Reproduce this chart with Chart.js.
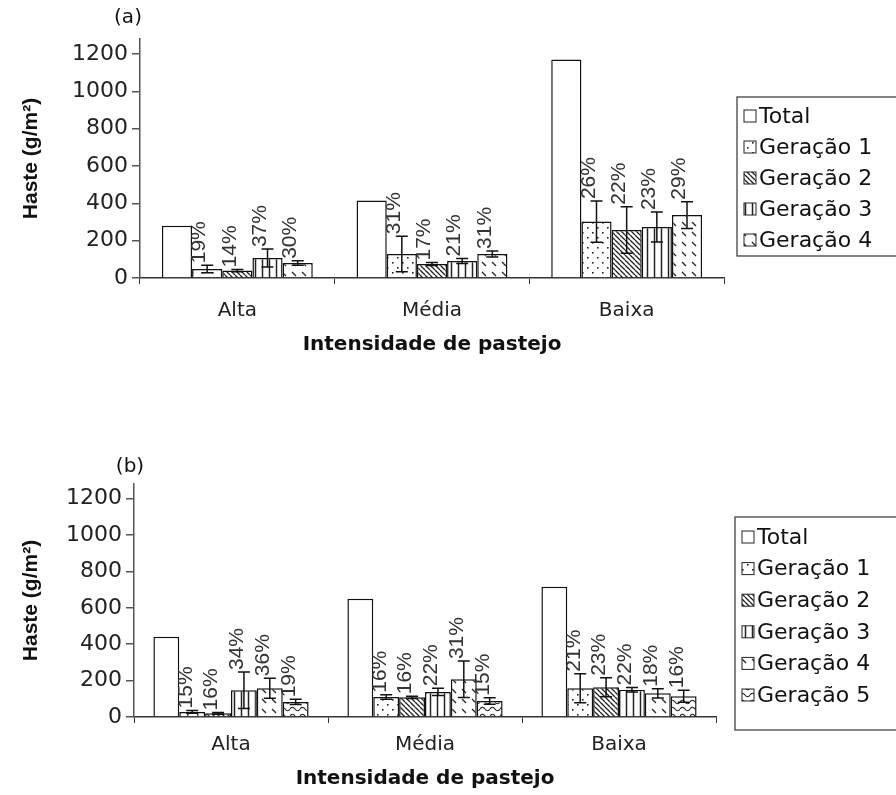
<!DOCTYPE html>
<html>
<head>
<meta charset="utf-8">
<script src="https://cdn.jsdelivr.net/npm/chart.js@4.4.1/dist/chart.umd.min.js"></script>
<style>
  html, body { margin: 0; padding: 0; background: #fff; }
  .panel { position: absolute; left: 0; width: 896px; }
  #boxA { top: 0; height: 397px; }
  #boxB { top: 397px; height: 398px; }
</style>
</head>
<body>
<div class="panel" id="boxA"><canvas id="chartA"></canvas></div>
<div class="panel" id="boxB"><canvas id="chartB"></canvas></div>
<script>
// x categories and y tick values (shared by both panels)
const categories = ['Alta', 'Média', 'Baixa'];
const yTicks = [0, 200, 400, 600, 800, 1000, 1200];

// panel (a) - values in g/m2, errors are +/- half lengths, pcts are the bar labels
const namesA = ['Total', 'Geração 1', 'Geração 2', 'Geração 3', 'Geração 4'];
const totalA = [280, 415, 1170];
const ger1A = [48, 129, 302];
const ger2A = [40, 75, 257];
const ger3A = [107, 91, 273];
const ger4A = [80, 129, 337];
const err1A = [20, 95, 110];
const err2A = [6, 8, 125];
const err3A = [48, 14, 80];
const err4A = [12, 16, 72];
const pct1A = ['19%', '31%', '26%'];
const pct2A = ['14%', '17%', '22%'];
const pct3A = ['37%', '21%', '23%'];
const pct4A = ['30%', '31%', '29%'];

// panel (b)
const namesB = ['Total', 'Geração 1', 'Geração 2', 'Geração 3', 'Geração 4', 'Geração 5'];
const totalB = [441, 649, 716];
const ger1B = [28, 110, 158];
const ger2B = [20, 108, 163];
const ger3B = [147, 138, 150];
const ger4B = [158, 207, 130];
const ger5B = [83, 88, 114];
const err1B = [8, 12, 80];
const err2B = [5, 6, 52];
const err3B = [100, 20, 12];
const err4B = [55, 100, 25];
const err5B = [14, 18, 33];
const pct1B = ['15%', '16%', '21%'];
const pct2B = ['16%', '16%', '23%'];
const pct3B = ['34%', '22%', '22%'];
const pct4B = ['36%', '31%', '18%'];
const pct5B = ['19%', '15%', '16%'];

// fill patterns for the bars (small tiles repeated)
function makePattern(kind) {
    const c = document.createElement('canvas');
    const w = { dots: 10, hatch: 5, vert: 7, dash: 10, wave: 10 }[kind] || 8;
    const h = { dots: 10, hatch: 5, vert: 7, dash: 10, wave: 7 }[kind] || 8;
    c.width = w; c.height = h;
    const g = c.getContext('2d');
    g.fillStyle = '#fff';
    g.fillRect(0, 0, w, h);
    g.strokeStyle = '#222';
    g.fillStyle = '#222';
    if (kind === 'plain') return '#fff';
    if (kind === 'dots') {
        g.fillRect(2, 2, 1.6, 1.6);
        g.fillRect(7, 7, 1.6, 1.6);
    } else if (kind === 'hatch') {
        g.lineWidth = 1.3;
        g.beginPath();
        g.moveTo(-w, 0); g.lineTo(0, h);
        g.moveTo(0, 0); g.lineTo(w, h);
        g.moveTo(w, 0); g.lineTo(2 * w, h);
        g.stroke();
    } else if (kind === 'vert') {
        g.lineWidth = 1.5;
        g.beginPath();
        g.moveTo(3.5, 0); g.lineTo(3.5, h);
        g.stroke();
    } else if (kind === 'dash') {
        g.lineWidth = 1.2;
        g.beginPath();
        g.moveTo(2, 2); g.lineTo(6, 6);
        g.stroke();
    } else if (kind === 'wave') {
        g.lineWidth = 1.2;
        g.beginPath();
        g.moveTo(0, 4); g.quadraticCurveTo(2.5, 0.5, 5, 4); g.quadraticCurveTo(7.5, 7.5, 10, 4);
        g.stroke();
    }
    return g.createPattern(c, 'repeat');
}

const fills = {
    plain: makePattern('plain'),
    dots: makePattern('dots'),
    hatch: makePattern('hatch'),
    vert: makePattern('vert'),
    dash: makePattern('dash'),
    wave: makePattern('wave')
};

// error bars and rotated percentage labels
const barDecor = {
    id: 'barDecor',
    afterDatasetsDraw(chart) {
        const ctx = chart.ctx;
        const y = chart.scales.y;
        chart.data.datasets.forEach((ds, i) => {
            if (!ds.errors) return;
            const meta = chart.getDatasetMeta(i);
            meta.data.forEach((bar, j) => {
                const v = ds.data[j], e = ds.errors[j];
                const yTop = y.getPixelForValue(v + e);
                const yBot = y.getPixelForValue(Math.max(0, v - e));
                ctx.save();
                // percentage label, reading bottom to top
                ctx.fillStyle = '#333';
                ctx.font = '21px "Liberation Sans", Arial, sans-serif';
                ctx.translate(bar.x - bar.width * 0.25, Math.min(yTop, bar.y) - 2);
                ctx.rotate(-Math.PI / 2);
                ctx.textAlign = 'left';
                ctx.textBaseline = 'middle';
                ctx.fillText(ds.pcts[j], 0, 0);
                ctx.restore();

                ctx.save();
                ctx.strokeStyle = '#111';
                ctx.lineWidth = 1.5;
                ctx.beginPath();
                ctx.moveTo(bar.x, yTop); ctx.lineTo(bar.x, yBot);
                ctx.moveTo(bar.x - 6, yTop); ctx.lineTo(bar.x + 6, yTop);
                ctx.moveTo(bar.x - 6, yBot); ctx.lineTo(bar.x + 6, yBot);
                ctx.stroke();
                ctx.restore();
            });
        });
    }
};

// boxed legend on the right and the panel letter
const boxLegend = {
    id: 'boxLegend',
    afterDraw(chart, args, opts) {
        const ctx = chart.ctx;
        ctx.save();
        ctx.strokeStyle = '#333';
        ctx.lineWidth = 1.2;
        ctx.strokeRect(opts.x, opts.y, opts.w, opts.h);
        ctx.font = '22px "DejaVu Sans", sans-serif';
        ctx.textBaseline = 'middle';
        ctx.textAlign = 'left';
        chart.data.datasets.forEach((ds, i) => {
            const cy = opts.first + i * opts.step;
            ctx.fillStyle = ds.backgroundColor;
            ctx.fillRect(opts.x + 7, cy - 6, 12, 12);
            ctx.strokeStyle = '#222';
            ctx.lineWidth = 1;
            ctx.strokeRect(opts.x + 7, cy - 6, 12, 12);
            ctx.fillStyle = '#111';
            ctx.fillText(ds.label, opts.x + 22, cy + 1);
        });
        ctx.font = '20px "DejaVu Sans", sans-serif';
        ctx.textAlign = 'center';
        ctx.fillStyle = '#111';
        ctx.fillText(opts.letter, opts.lx, opts.ly);
        ctx.restore();
    }
};

function makeDataset(label, data, fill, errors, pcts) {
    return {
        label: label,
        data: data,
        backgroundColor: fill,
        borderColor: '#111',
        borderWidth: 1.5,
        borderSkipped: 'bottom',
        barPercentage: 1.0,
        errors: errors,
        pcts: pcts
    };
}

function makeOptions(o) {
    return {
        responsive: true,
        maintainAspectRatio: false,
        animation: false,
        layout: { padding: o.padding },
        plugins: {
            legend: { display: false },
            tooltip: { enabled: false },
            boxLegend: o.legend
        },
        scales: {
            x: {
                afterFit: s => { s.height = o.xHeight; },
                border: { color: '#333', width: 1.5 },
                grid: { drawOnChartArea: false, tickLength: 6, color: '#333', offset: true },
                ticks: { color: '#222', font: { family: 'DejaVu Sans', size: 20 }, padding: o.xPad },
                title: {
                    display: true,
                    text: 'Intensidade de pastejo',
                    color: '#111',
                    font: { family: 'DejaVu Sans', weight: 'bold', size: 20 },
                    padding: { top: 0, bottom: o.titlePad }
                }
            },
            y: {
                min: 0,
                max: 1280,
                afterBuildTicks: s => { s.ticks = yTicks.map(v => ({ value: v })); },
                afterFit: s => { s.width = o.yWidth; },
                border: { color: '#555', width: 1.5 },
                grid: { drawOnChartArea: false, tickLength: 8, color: '#555', lineWidth: 1.5 },
                ticks: {
                    color: '#222',
                    font: { family: 'DejaVu Sans', size: 22 },
                    padding: 4,
                    callback: v => String(v)
                },
                title: {
                    display: true,
                    text: 'Haste (g/m²)',
                    color: '#111',
                    font: { family: 'Liberation Sans', weight: 'bold', size: 21 },
                    padding: { top: 19, bottom: 0 }
                }
            }
        }
    };
}

new Chart(document.getElementById('chartA'), {
    type: 'bar',
    data: {
        labels: categories,
        datasets: [
            makeDataset(namesA[0], totalA, fills.plain, null, null),
            makeDataset(namesA[1], ger1A, fills.dots, err1A, pct1A),
            makeDataset(namesA[2], ger2A, fills.hatch, err2A, pct2A),
            makeDataset(namesA[3], ger3A, fills.vert, err3A, pct3A),
            makeDataset(namesA[4], ger4A, fills.dash, err4A, pct4A)
        ].map(d => Object.assign(d, { categoryPercentage: 0.775 }))
    },
    options: makeOptions({
        padding: { left: 0, right: 172, top: 39, bottom: 10 },
        xHeight: 109, xPad: 15, titlePad: 30, yWidth: 140,
        legend: { x: 737, y: 97, w: 170, h: 159, first: 116, step: 31, letter: '(a)', lx: 128, ly: 18 }
    }),
    plugins: [barDecor, boxLegend]
});

new Chart(document.getElementById('chartB'), {
    type: 'bar',
    data: {
        labels: categories,
        datasets: [
            makeDataset(namesB[0], totalB, fills.plain, null, null),
            makeDataset(namesB[1], ger1B, fills.dots, err1B, pct1B),
            makeDataset(namesB[2], ger2B, fills.hatch, err2B, pct2B),
            makeDataset(namesB[3], ger3B, fills.vert, err3B, pct3B),
            makeDataset(namesB[4], ger4B, fills.dash, err4B, pct4B),
            makeDataset(namesB[5], ger5B, fills.wave, err5B, pct5B)
        ].map(d => Object.assign(d, { categoryPercentage: 0.80 }))
    },
    options: makeOptions({
        padding: { left: 0, right: 180, top: 87, bottom: 0 },
        xHeight: 78, xPad: 10, titlePad: 4, yWidth: 134,
        legend: { x: 735, y: 120, w: 170, h: 213, first: 140, step: 31.6, letter: '(b)', lx: 130, ly: 70 }
    }),
    plugins: [barDecor, boxLegend]
});
</script>
</body>
</html>
